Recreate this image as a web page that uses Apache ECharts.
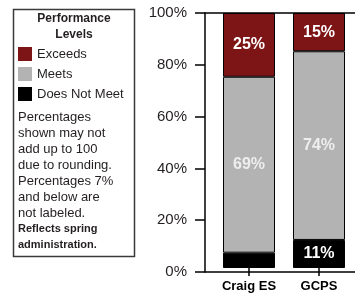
<!DOCTYPE html>
<html><head><meta charset="utf-8">
<script src="https://cdn.jsdelivr.net/npm/echarts@6/dist/echarts.min.js"></script>
<style>html,body{margin:0;padding:0;background:#fff}#c{width:355px;height:293px}</style>
</head><body><div id="c"></div>
<script>
const categories = ['Craig ES', 'GCPS'];
const seriesNames = ['Exceeds', 'Meets', 'Does Not Meet'];
const exceeds = [25, 15];
const meets = [69, 74];
const doesNotMeet = [6, 11];
const yMin = 0, yMax = 100, yStep = 20;
const labelThreshold = 7;
const legendTitle = 'Performance\nLevels';
const notes = ['Percentages', 'shown may not', 'add up to 100', 'due to rounding.', 'Percentages 7%', 'and below are', 'not labeled.'];
const boldNotes = ['Reflects spring', 'administration.'];

const SANS = '"Liberation Sans", Arial, sans-serif';
const DARK = '#231f20';
const colors = { 'Exceeds': '#7d1517', 'Meets': '#b3b3b3', 'Does Not Meet': '#000000' };

const chart = echarts.init(document.getElementById('c'), null, { renderer: 'canvas' });

function barLabel(color) {
  return {
    show: true, position: 'inside', color: color,
    fontFamily: SANS, fontWeight: 'bold', fontSize: 16,
    formatter: p => (p.value > labelThreshold ? p.value + '%' : '')
  };
}
function mk(name, data, labelColor) {
  return {
    name, type: 'bar', stack: 'total', data,
    xAxisIndex: 2, yAxisIndex: 1, barWidth: 52,
    itemStyle: { color: colors[name], borderColor: '#000', borderWidth: 1 },
    label: barLabel(labelColor),
    emphasis: { disabled: true }
  };
}

const notesText = notes.map(s => '{n|' + s + '}').join('\n') + '\n' + boldNotes.map(s => '{b|' + s + '}').join('\n');

chart.setOption({
  animation: false,
  grid: [
    { left: 205, right: 0, top: 13, bottom: 21 },
    { left: 214, right: 1, top: 13, bottom: 21 }
  ],
  xAxis: [
    { gridIndex: 0, type: 'value', position: 'bottom', min: 0, max: 1,
      axisLine: { show: true, lineStyle: { color: '#000', width: 1.5 } },
      axisTick: { show: false }, axisLabel: { show: false }, splitLine: { show: false } },
    { gridIndex: 0, type: 'value', position: 'top', min: 0, max: 1,
      axisLine: { show: true, lineStyle: { color: '#000', width: 1.5 } },
      axisTick: { show: false }, axisLabel: { show: false }, splitLine: { show: false } },
    { gridIndex: 1, type: 'category', data: categories,
      axisLine: { show: false },
      axisTick: { show: true, alignWithLabel: true, length: 8, lineStyle: { color: '#000', width: 1.5 } },
      axisLabel: { show: true, interval: 0, color: '#000', fontFamily: SANS, fontWeight: 'bold', fontSize: 13, margin: 12 } }
  ],
  yAxis: [
    { gridIndex: 0, type: 'value', min: yMin, max: yMax, interval: yStep,
      axisLine: { show: true, lineStyle: { color: '#000', width: 1.5 } },
      axisTick: { show: true, length: 10, lineStyle: { color: '#000', width: 1.5 } },
      axisLabel: { color: DARK, fontFamily: SANS, fontSize: 15, margin: 18, formatter: v => v + '%' },
      splitLine: { show: false } },
    { gridIndex: 1, type: 'value', min: yMin, max: yMax, interval: yStep, show: false }
  ],
  legend: {
    orient: 'vertical', left: 18, top: 47, padding: 0,
    data: seriesNames, icon: 'rect', itemWidth: 14, itemHeight: 14, itemGap: 6,
    itemStyle: { borderWidth: 0 },
    textStyle: { color: DARK, fontFamily: SANS, fontSize: 13 },
    selectedMode: false
  },
  graphic: [
    { type: 'rect', shape: { x: 13.5, y: 9.5, width: 121, height: 247 },
      style: { fill: 'none', stroke: '#3a3a3a', lineWidth: 1.5 }, silent: true },
    { type: 'text', x: 74, y: 11, silent: true,
      style: { text: legendTitle, textAlign: 'center', fill: DARK,
        font: 'bold 12px ' + SANS, lineHeight: 16 } },
    { type: 'text', x: 18, y: 109, silent: true,
      style: { text: notesText, fill: DARK, lineHeight: 16,
        rich: {
          n: { fontSize: 13, fontFamily: SANS, lineHeight: 16, fill: DARK },
          b: { fontWeight: 'bold', fontSize: 11, fontFamily: SANS, lineHeight: 16, fill: DARK }
        } } }
  ],
  series: [
    mk('Does Not Meet', doesNotMeet, '#ffffff'),
    mk('Meets', meets, '#eeeeee'),
    mk('Exceeds', exceeds, '#ffffff')
  ]
});
</script></body></html>
